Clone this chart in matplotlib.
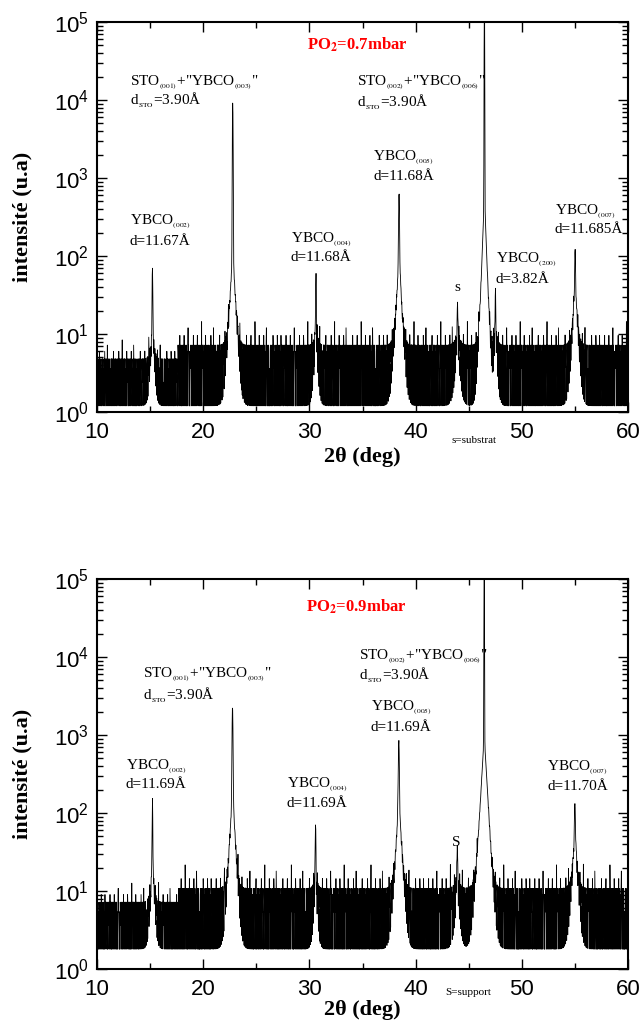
import numpy as np
import matplotlib
matplotlib.use('Agg')
from matplotlib import pyplot as plt
from matplotlib.ticker import MultipleLocator, LogLocator, NullFormatter

plt.rcParams['font.family'] = ['Liberation Sans', 'DejaVu Sans']
plt.rcParams['mathtext.fontset'] = 'custom'
plt.rcParams['mathtext.rm'] = 'Liberation Sans'
plt.rcParams['mathtext.it'] = 'Liberation Sans:italic'
plt.rcParams['mathtext.bf'] = 'Liberation Sans:bold'

# 2theta grid (deg), step 0.025
two_theta = np.arange(10.0, 60.0001, 0.025)

# diffraction peaks:
# position (deg), peak height, core half width, wing amplitude, wing decay length
peaks_07_pos = [15.22, 22.78, 30.62, 38.44, 43.95, 46.48, 47.52, 55.02]
peaks_07_height = [70, 9300, 55, 650, 22, 2e5, 32, 120]
peaks_07_core = [0.03, 0.03, 0.03, 0.04, 0.03, 0.02, 0.03, 0.04]
peaks_07_wing = [10, 120, 8, 100, 6, 600, 8, 40]
peaks_07_decay = [0.13, 0.16, 0.13, 0.16, 0.18, 0.12, 0.13, 0.16]

peaks_09_pos = [15.22, 22.76, 30.58, 38.42, 43.92, 46.46, 55.0]
peaks_09_height = [150, 2300, 70, 850, 28, 2e5, 130]
peaks_09_core = [0.03, 0.04, 0.03, 0.045, 0.04, 0.02, 0.045]
peaks_09_wing = [20, 200, 10, 150, 8, 1000, 50]
peaks_09_decay = [0.13, 0.16, 0.13, 0.17, 0.18, 0.18, 0.17]

# background counts (count units), typed from the look of the noise floor
noise_counts = ("41321423152413242131434213241532143214261342134213"
                "23141432412351321434214213243142531423412134271342"
                "31424132143152432142132413421534213241632143124123"
                "14232143214315243121432413241352143124213413274213"
                "42131423412531432142314231425132413214632142134121"
                "21343142132415324132143214231542134213412315243142"
                "34121432413251432141324132415231423124132146342131"
                "13242314213425132413421324135421342143124132713424")
bg_step_07 = 1.2
bg_step_09 = 1.8
bg_edges = [10.0, 17.6, 60.0]
bg_gain = [1.0, 1.8]


def profile(pos, height, core, wing, decay, step, offset):
    y = np.zeros_like(two_theta)
    for p, h, wc, a, b in zip(pos, height, core, wing, decay):
        dx = two_theta - p
        y += (h - a) * np.exp(-np.log(2) * (dx / wc) ** 2) + a * np.exp(-np.abs(dx) / b)
    digits = np.array([int(c) for c in noise_counts], dtype=float)
    d = np.resize(np.roll(digits, offset), two_theta.size)
    gain = np.where(two_theta < bg_edges[1], bg_gain[0], bg_gain[1])
    counts = np.round(1 + (d - 1) * gain)
    return y + counts * step


int_07 = profile(peaks_07_pos, peaks_07_height, peaks_07_core, peaks_07_wing, peaks_07_decay,
                 bg_step_07, 0)
int_09 = profile(peaks_09_pos, peaks_09_height, peaks_09_core, peaks_09_wing, peaks_09_decay,
                 bg_step_09, 137)

SUB = '$_{_{\\mathrm{%s}}}$'

# annotations: (text, x axes frac, y axes frac)
labels_07 = [
    ('STO' + SUB % '(001)' + '+"YBCO' + SUB % '(003)' + '"', 0.0621, 0.8436),
    ('d' + SUB % 'STO' + '=3.90Å', 0.0621, 0.800),
    ('YBCO' + SUB % '(002)', 0.0621, 0.4872),
    ('d=11.67Å', 0.0621, 0.4359),
    ('YBCO' + SUB % '(004)', 0.3653, 0.441),
    ('d=11.68Å', 0.3653, 0.3974),
    ('YBCO' + SUB % '(005)', 0.5198, 0.6513),
    ('d=11.68Å', 0.5198, 0.6051),
    ('STO' + SUB % '(002)' + '+"YBCO' + SUB % '(006)' + '"', 0.4896, 0.8436),
    ('d' + SUB % 'STO' + '=3.90Å', 0.4896, 0.7949),
    ('YBCO' + SUB % '(200)', 0.7514, 0.3897),
    ('d=3.82Å', 0.7514, 0.3410),
    ('YBCO' + SUB % '(007)', 0.8625, 0.5128),
    ('d=11.685Å', 0.8625, 0.4667),
]
labels_09 = [
    ('STO' + SUB % '(001)' + '+"YBCO' + SUB % '(003)' + '"', 0.0866, 0.7538),
    ('d' + SUB % 'STO' + '=3.90Å', 0.0866, 0.7026),
    ('YBCO' + SUB % '(002)', 0.0546, 0.5179),
    ('d=11.69Å', 0.0546, 0.4718),
    ('YBCO' + SUB % '(004)', 0.3578, 0.4718),
    ('d=11.69Å', 0.3578, 0.4256),
    ('YBCO' + SUB % '(005)', 0.516, 0.6692),
    ('d=11.69Å', 0.516, 0.6205),
    ('STO' + SUB % '(002)' + '+"YBCO' + SUB % '(006)' + '"', 0.4934, 0.800),
    ('d' + SUB % 'STO' + '=3.90Å', 0.4934, 0.7538),
    ('YBCO' + SUB % '(007)', 0.8475, 0.5154),
    ('d=11.70Å', 0.8475, 0.4667),
]

panels = [
    dict(y=int_07, labels=labels_07, title='PO$_{\\mathbf{2}}$=0.7mbar', title_xy=(0.395, 0.9423),
         s_text='s', s_xy=(0.678, 0.3205), note='s=substrat', note_xy=(0.71, -0.074),
         xlab_y=-0.115, rect=[97 / 643, 1 - 412 / 1034, 531 / 643, 390 / 1034]),
    dict(y=int_09, labels=labels_09, title='PO$_{\\mathbf{2}}$=0.9mbar', title_xy=(0.3936, 0.9282),
         s_text='S', s_xy=(0.676, 0.3231), note='S=support', note_xy=(0.699, -0.059),
         xlab_y=-0.105, rect=[97 / 643, 1 - 969 / 1034, 531 / 643, 390 / 1034]),
]

fig = plt.figure(figsize=(6.43, 10.34), dpi=100)
serif = ['Liberation Serif', 'DejaVu Serif']

for p in panels:
    ax = fig.add_axes(p['rect'])
    ax.plot(two_theta, p['y'], color='black', lw=0.6)
    ax.set_yscale('log')
    ax.set_xlim(10, 60)
    ax.set_ylim(1, 1e5)
    ax.xaxis.set_major_locator(MultipleLocator(10))
    ax.xaxis.set_minor_locator(MultipleLocator(5))
    ax.yaxis.set_major_locator(LogLocator(base=10, numticks=10))
    ax.yaxis.set_minor_locator(LogLocator(base=10, subs=np.arange(2, 10), numticks=10))
    ax.yaxis.set_minor_formatter(NullFormatter())
    ax.tick_params(which='both', direction='in', top=True, right=True, width=1)
    ax.tick_params(which='major', length=7, labelsize=16)
    ax.tick_params(which='minor', length=4)
    ax.tick_params(axis='x', pad=7)
    ax.tick_params(axis='y', pad=6)
    for sp in ax.spines.values():
        sp.set_linewidth(1.5)

    ax.set_ylabel('intensité (u.a)', family=serif, fontweight='bold', fontsize=16)
    ax.yaxis.set_label_coords(-0.141, 0.5)
    ax.yaxis.label.set_va('center')
    ax.set_xlabel('2θ (deg)', family=serif, fontweight='bold', fontsize=16)
    ax.xaxis.set_label_coords(0.5, p['xlab_y'])
    ax.xaxis.label.set_va('center')

    for txt, fx, fy in p['labels']:
        ax.text(fx, fy, txt, transform=ax.transAxes, ha='left', va='center',
                family=serif, fontsize=11, math_fontfamily='stix')
    ax.text(*p['title_xy'], p['title'], transform=ax.transAxes, ha='left', va='center',
            family=serif, fontsize=12, fontweight='bold', color='red', math_fontfamily='stix')
    ax.text(*p['s_xy'], p['s_text'], transform=ax.transAxes, ha='center', va='center',
            family=serif, fontsize=11)
    ax.text(*p['note_xy'], p['note'], transform=ax.transAxes, ha='center', va='center',
            family=serif, fontsize=8)

fig.savefig('out.png', dpi=100)
